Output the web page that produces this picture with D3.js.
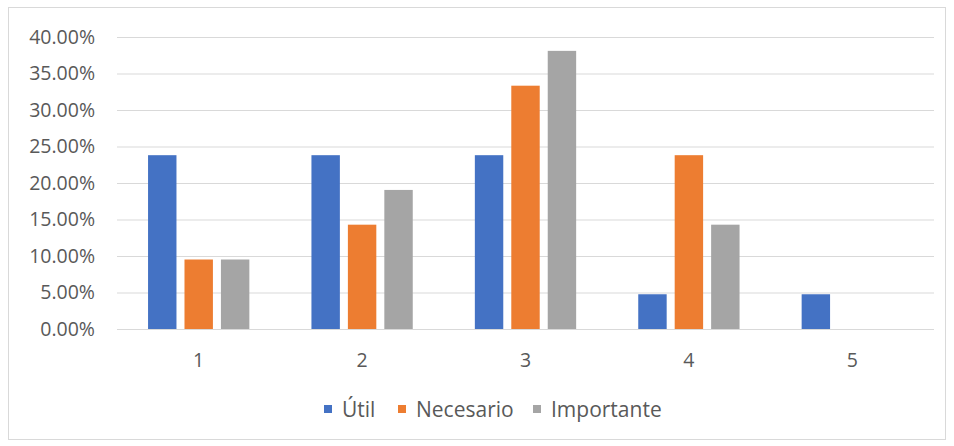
<!DOCTYPE html>
<html>
<head>
<meta charset="utf-8">
<script src="https://cdn.jsdelivr.net/npm/d3@7"></script>
<style>
  body { margin: 0; background: #fff; }
  svg { display: block; font-family: "Open Sans", sans-serif; }
</style>
</head>
<body>
<svg id="chart"></svg>
<script>
// categories and series (percent of answers)
const categories = ["1", "2", "3", "4", "5"];
const seriesNames = ["Útil", "Necesario", "Importante"];
const util = [23.81, 23.81, 23.81, 4.76, 4.76];
const necesario = [9.52, 14.29, 33.33, 23.81, 0];
const importante = [9.52, 19.05, 38.10, 14.29, 0];
const yTicks = [0, 5, 10, 15, 20, 25, 30, 35, 40];
const colors = ["#4472C4", "#ED7D31", "#A5A5A5"];

const values = [util, necesario, importante];
const width = 954, height = 446;

const svg = d3.select("#chart")
    .attr("width", width)
    .attr("height", height);

// chart frame
svg.append("rect")
    .attr("x", 8.5).attr("y", 7.5)
    .attr("width", 937).attr("height", 432)
    .attr("fill", "#fff")
    .attr("stroke", "#d9d9d9");

const x0 = d3.scaleBand()
    .domain(categories)
    .range([117, 934])
    .paddingInner(0.38)
    .paddingOuter(0.19);

const x1 = d3.scaleBand()
    .domain(seriesNames)
    .range([0, x0.bandwidth()])
    .paddingInner(0.22);

const y = d3.scaleLinear()
    .domain([0, 40])
    .range([329, 37]);

// gridlines + y labels
const yAxis = svg.append("g")
    .attr("transform", "translate(117,0)")
    .call(d3.axisLeft(y).tickValues(yTicks).tickSize(-817).tickPadding(22)
        .tickFormat(d => d.toFixed(2) + "%"));
yAxis.select(".domain").remove();
yAxis.selectAll("line").attr("stroke", "#d9d9d9");
yAxis.selectAll("text")
    .attr("fill", "#595959")
    .style("font-size", "19.5px")
    .style("font-family", "Open Sans");

// bars
const groups = svg.append("g").selectAll("g")
    .data(categories)
    .join("g")
    .attr("transform", d => `translate(${x0(d)},0)`);

groups.selectAll("rect")
    .data((c, i) => seriesNames.map((s, j) => ({ s, v: values[j][i], j })))
    .join("rect")
    .attr("x", d => x1(d.s))
    .attr("y", d => y(d.v))
    .attr("width", x1.bandwidth())
    .attr("height", d => y(0) - y(d.v))
    .attr("fill", d => colors[d.j]);

// x labels
const xAxis = svg.append("g")
    .attr("transform", "translate(0,329)")
    .call(d3.axisBottom(x0).tickSize(0).tickPadding(24));
xAxis.select(".domain").remove();
xAxis.selectAll("text")
    .attr("fill", "#595959")
    .style("font-size", "19.5px")
    .style("font-family", "Open Sans");

// legend
const legendX = [324, 398, 533];
const legend = svg.append("g").selectAll("g")
    .data(seriesNames)
    .join("g")
    .attr("transform", (d, i) => `translate(${legendX[i]},410)`);
legend.append("rect")
    .attr("x", 0).attr("y", -5)
    .attr("width", 8).attr("height", 8)
    .attr("fill", (d, i) => colors[i]);
legend.append("text")
    .attr("x", 18).attr("y", 0)
    .attr("dy", "0.33em")
    .attr("fill", "#595959")
    .style("font-size", "21px")
    .text(d => d);
</script>
</body>
</html>
